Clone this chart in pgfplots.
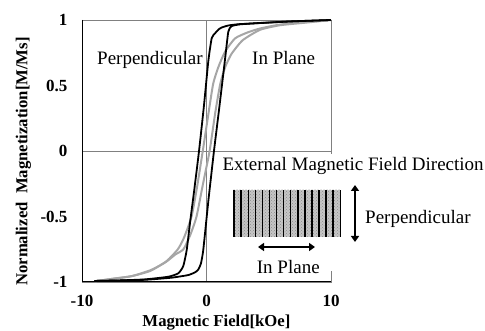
\documentclass[border=0pt]{standalone}
\usepackage{fontspec}
\setmainfont{Liberation Serif}
\usepackage{pgfplots}
\pgfplotsset{compat=1.18}
\usetikzlibrary{patterns,arrows.meta}
\definecolor{lgray}{RGB}{166,166,166}
\definecolor{fgray}{RGB}{128,128,128}
\begin{document}
\begin{tikzpicture}[x=1pt,y=1pt]
\begin{axis}[
  at={(82pt,49pt)}, anchor=south west,
  scale only axis, width=249pt, height=262pt,
  xmin=-10, xmax=10, ymin=-1, ymax=1,
  xtick={-10,0,10}, ytick={-1,-0.5,0,0.5,1},
  major tick length=0pt,
  axis line style={draw=fgray, line width=0.7pt},
  /pgf/number format/assume math mode=true,
  ticklabel style={font=\fontsize{17}{20}\selectfont\bfseries},
  xticklabel style={yshift=-10pt},
  yticklabel style={xshift=-11pt, /pgf/number format/fixed},
  xlabel={Magnetic Field[kOe]},
  ylabel={Normalized\ \ Magnetization[M/Ms]},
  label style={font=\fontsize{16.7}{20}\selectfont\bfseries},
  xlabel style={at={(axis description cs:0.54,0)}, anchor=base, yshift=-44.5pt},
  ylabel style={at={(axis description cs:-0.235,0.46)}, anchor=center},
  clip=false,
]
\draw[fgray, line width=0.7pt] (axis cs:0,-1) -- (axis cs:0,1);
\draw[fgray, line width=0.7pt] (axis cs:-10,0) -- (axis cs:10,0);
% in-plane loop (gray)
\addplot[lgray, line width=2pt, smooth, tension=0.35] coordinates {
(10,1.0) (8,0.985) (5.9,0.965) (4.3,0.935) (3.3,0.905) (2.3,0.86) (1.5,0.76) (0.95,0.64) (0.53,0.51) (0.1,0.25) (-0.3,0) (-0.75,-0.27) (-1.2,-0.5) (-1.8,-0.66) (-2.3,-0.75) (-3.2,-0.84) (-4.5,-0.915) (-6,-0.955) (-7.5,-0.975) (-9,-0.995)
};
\addplot[lgray, line width=2pt, smooth, tension=0.35] coordinates {
(-9,-0.995) (-7.5,-0.975) (-6,-0.955) (-4.5,-0.91) (-3.3,-0.85) (-2.5,-0.79) (-1.85,-0.75) (-1.3,-0.64) (-0.8,-0.5) (-0.3,-0.26) (0.25,0) (0.7,0.29) (1.1,0.51) (1.5,0.64) (2.0,0.74) (2.9,0.845) (4.3,0.925) (5.9,0.96) (8,0.98) (10,1.0)
};
% perpendicular loop (black)
\addplot[black, line width=1.8pt, smooth, tension=0.3] coordinates {
(10,1.0) (7,0.99) (4.4,0.977) (2.6,0.968) (1.75,0.958) (1.2,0.942) (0.95,0.926) (0.7,0.9) (0.42,0.862) (0.15,0.69) (-0.2,0.35) (-0.6,0) (-1.0,-0.31) (-1.3,-0.53) (-1.59,-0.756) (-1.87,-0.88) (-2.27,-0.934) (-3.07,-0.96) (-4.94,-0.98) (-7,-0.988) (-9,-0.992)
};
\addplot[black, line width=1.8pt, smooth, tension=0.3] coordinates {
(-9,-0.992) (-7,-0.988) (-4.9,-0.983) (-2.8,-0.967) (-1.46,-0.947) (-0.9,-0.925) (-0.66,-0.905) (-0.45,-0.86) (-0.26,-0.756) (0.15,-0.38) (0.6,0) (1.0,0.31) (1.47,0.685) (1.75,0.91) (2.0,0.952) (2.6,0.966) (4.4,0.978) (7,0.99) (10,1.0)
};
\draw[black, line width=1pt] (rel axis cs:0,1) -- (rel axis cs:0,0) -- (rel axis cs:1,0);
\end{axis}
% inset overlay
\fill[white] (218,60) rectangle (490,177);
\node[anchor=base west, inner sep=0, font=\fontsize{19}{22}\selectfont] at (97,266) {Perpendicular};
\node[anchor=base west, inner sep=0, font=\fontsize{19}{22}\selectfont] at (252,266) {In Plane};
\node[anchor=base west, inner sep=0, font=\fontsize{19}{22}\selectfont] at (222.3,160.3) {External Magnetic Field Direction};
\node[anchor=base west, inner sep=0, font=\fontsize{19}{22}\selectfont] at (365,107.7) {Perpendicular};
\node[anchor=base west, inner sep=0, font=\fontsize{19}{22}\selectfont] at (256.7,57.7) {In Plane};
\fill[gray!45] (233.3,94) rectangle (340.7,141);
\fill[pattern=crosshatch dots, pattern color=gray!90] (233.3,94) rectangle (340.7,141);
\foreach \i in {0,...,15} \draw[line width=1.5pt] ({234.1+\i*7.08},94) -- ++(0,47);
\draw[line width=1.8pt, {Triangle[length=6pt,width=8pt]}-{Triangle[length=6pt,width=8pt]}] (258,84) -- (315,84);
\draw[line width=2.2pt, {Triangle[length=6pt,width=8pt]}-{Triangle[length=6pt,width=8pt]}] (355,146) -- (355,89);
\pgfresetboundingbox
\useasboundingbox (0,0) rectangle (485,331);
\end{tikzpicture}
\end{document}
